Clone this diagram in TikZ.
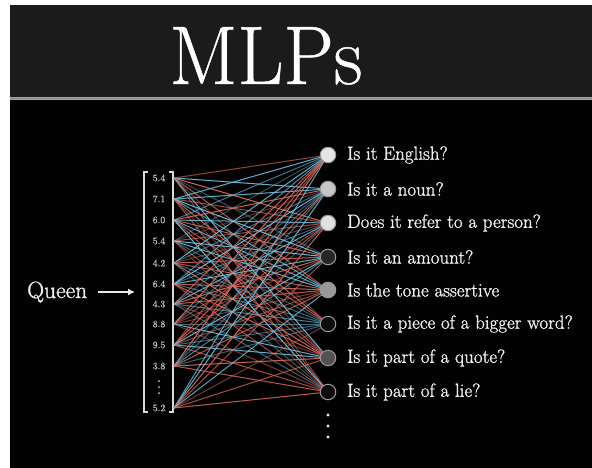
\documentclass[tikz,border=0pt]{standalone}
\usepackage{fontspec}
\newfontfamily\heavy{Latin Modern Roman}[FakeBold=1.2]
\newfontfamily\semiheavy{Latin Modern Roman}[FakeBold=0.6]
\usetikzlibrary{arrows.meta}
\definecolor{hdr}{HTML}{1B1B1B}
\definecolor{bgk}{HTML}{020202}
\definecolor{linered}{HTML}{E06A5C}
\definecolor{lineblue}{HTML}{70C8E8}
\definecolor{numgray}{HTML}{C4C4C4}
\definecolor{txt}{HTML}{F0F0F0}
\tikzset{
  lab/.style={anchor=west, text=txt, font=\heavy\fontsize{19}{22}\selectfont, inner sep=0pt},
  num/.style={text=numgray, font=\semiheavy\fontsize{9.8}{10}\selectfont, inner sep=0pt},
  brk/.style={draw=white!85!black, line width=1.3pt},
  conn/.style={line width=1pt},
  outc/.style={circle, draw=gray!80!white, minimum size=15.5pt, inner sep=0pt, line width=1pt},
  dotn/.style={circle, fill=white!92!black, inner sep=0pt, minimum size=3.4pt}
}
\begin{document}
\begin{tikzpicture}[x=1pt,y=-1pt]
\useasboundingbox (0,0) rectangle (592,468);
\fill[white] (0,0) rectangle (592,468);
\fill[bgk] (10,5) rectangle (592,468);
\fill[hdr] (10,5) rectangle (592,97);
\fill[gray!70] (10,97) rectangle (592,100.5);
\fill[gray!95!white] (10,98.2) rectangle (592,99.3);
\node[text=white, inner sep=0pt, anchor=base] (title) at (266,84) {\scalebox{1}[1.04]{\semiheavy\fontsize{80}{84}\selectfont MLPs}};
% input vector
\foreach \i/\y/\v in {1/178/5.4,2/199/7.1,3/220/6.0,4/241/5.4,5/263/4.2,6/284/6.4,7/304/4.3,8/324/8.8,9/345/9.5,10/366/3.8,11/408/5.2} {
  \node[num] (n\i) at (159,\y) {\v};
  \coordinate (in\i) at (174,\y);
}
\foreach \k in {381,387,393} \fill[numgray] (159,\k) circle (1);
\draw[brk] (148,172) -- (144,172) -- (144,412) -- (148,412);
\draw[brk] (169,172) -- (173,172) -- (173,412) -- (169,412);
% output positions
\foreach \j/\y in {1/155,2/189,3/223,4/257,5/290,6/324,7/358,8/392} {
  \coordinate (p\j) at (328,\y);
}
% connections
\pgfmathsetseed{12}
\foreach \i in {1,...,11} {
  \foreach \j in {1,...,8} {
    \pgfmathsetmacro\r{rnd}
    \pgfmathsetmacro\o{0.4+0.55*rnd}
    \ifdim\r pt<0.5pt \def\cc{linered}\else\def\cc{lineblue}\fi
    \draw[conn, draw=\cc, opacity=\o] (in\i) -- (p\j);
  }
}
\foreach \j/\f/\t in {
  1/white!90!black/Is it English?,
  2/white!78!black/Is it a noun?,
  3/white!88!black/Does it refer to a person?,
  4/black!85!white/Is it an amount?,
  5/white!60!black/Is the tone assertive,
  6/black!95!white/Is it a piece of a bigger word?,
  7/black!68!white/Is it part of a quote?,
  8/black!95!white/Is it part of a lie?} {
  \node[outc, fill=\f] (o\j) at (p\j) {};
  \node[lab] (l\j) at ([xshift=19pt]p\j) {\t};
}
\node[dotn] (d1) at (328,415) {};
\node[dotn] (d2) at (328,426) {};
\node[dotn] (d3) at (328,437) {};
% Queen
\node[text=txt, font=\heavy\fontsize{23.5}{26}\selectfont, inner sep=0pt, anchor=base west] (queen) at (27,298) {Queen};
\coordinate (qa) at (135,292);
\coordinate (qs) at (98,292);
\draw[white!92!black, line width=1.4pt, -{Latex[length=7pt,width=7pt]}] (qs) -- (qa);
\end{tikzpicture}
\end{document}
